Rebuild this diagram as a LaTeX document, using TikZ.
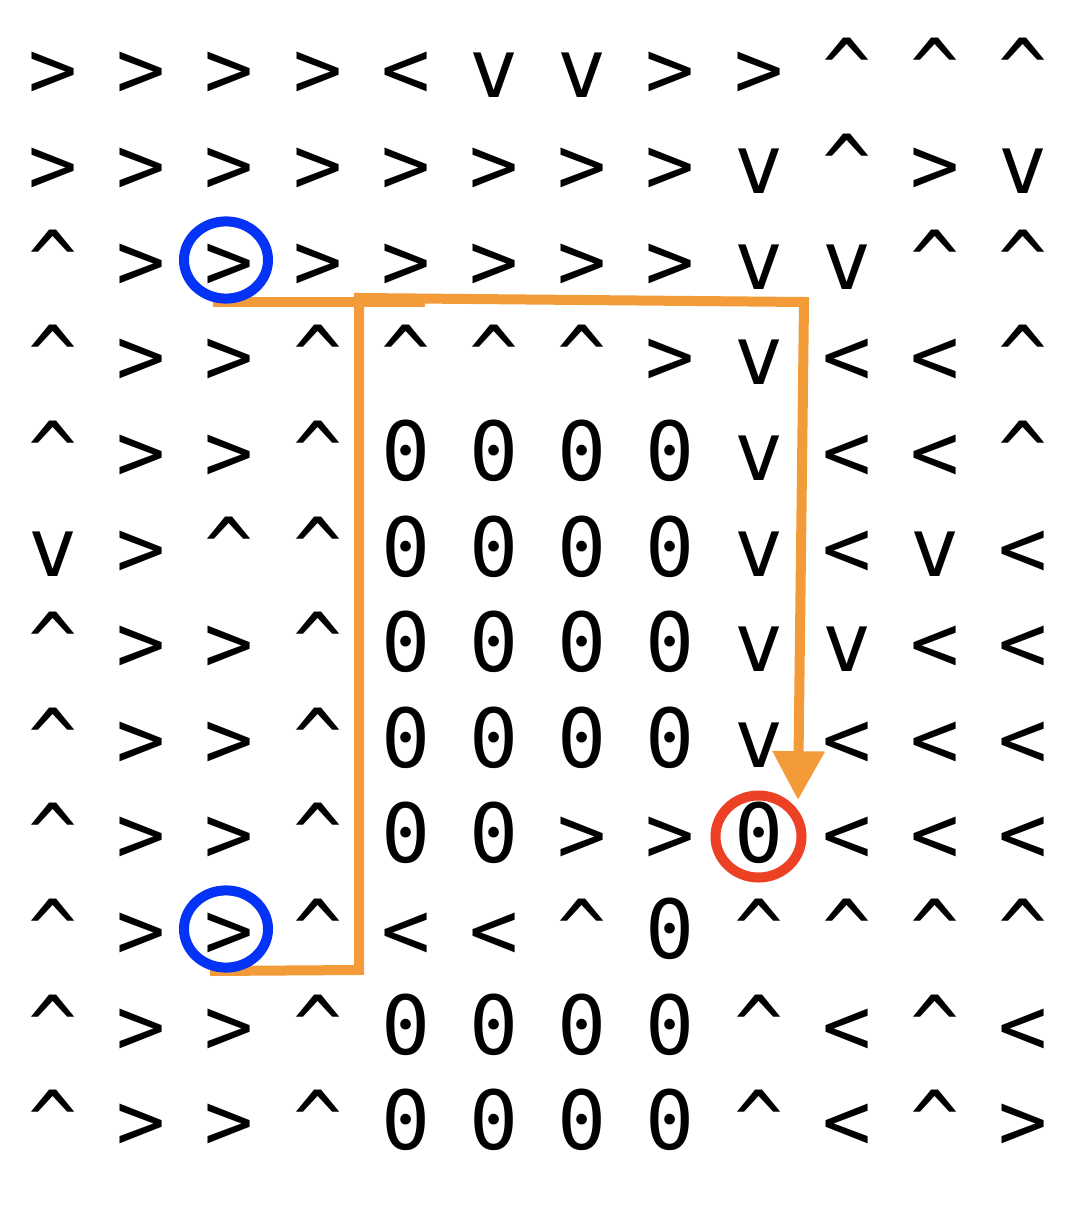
\documentclass[tikz,border=0pt]{standalone}
\usepackage{fontspec}
\usepackage{tikz}
\usetikzlibrary{arrows.meta, shapes.geometric}

\newfontfamily\gridfont{DejaVu Sans Mono}
\definecolor{routeorange}{HTML}{F39B38}
\definecolor{ringblue}{HTML}{0433F6}
\definecolor{ringred}{HTML}{EC4124}

% one letter per cell: r l d u o
\def\symr{>}\def\syml{<}\def\symd{v}\def\symu{\textasciicircum}\def\symo{0}

\begin{document}
\begin{tikzpicture}[
    x=0.025cm, y=-0.025cm,
    cell/.style={anchor=base, inner sep=0pt, font=\gridfont\fontsize{58}{60}\selectfont},
    ring/.style={draw=#1, ellipse, line width=0.25cm, inner sep=0pt},
    route/.style={draw=routeorange, line width=0.25cm},
    >={Triangle[length=1.22cm, width=1.25cm]},
]
    \useasboundingbox (0,0) rectangle (1080,1214);

    % grid of moves
    \foreach \rowlist [count=\j] in {
        {r,r,r,r,l,d,d,r,r,u,u,u},
        {r,r,r,r,r,r,r,r,d,u,r,d},
        {u,r,r,r,r,r,r,r,d,d,u,u},
        {u,r,r,u,u,u,u,r,d,l,l,u},
        {u,r,r,u,o,o,o,o,d,l,l,u},
        {d,r,u,u,o,o,o,o,d,l,d,l},
        {u,r,r,u,o,o,o,o,d,d,l,l},
        {u,r,r,u,o,o,o,o,d,l,l,l},
        {u,r,r,u,o,o,r,r,o,l,l,l},
        {u,r,r,u,l,l,u,o,u,u,u,u},
        {u,r,r,u,o,o,o,o,u,l,u,l},
        {u,r,r,u,o,o,o,o,u,l,u,r}}{
        \foreach \ch [count=\i] in \rowlist
            \node[cell] (c-\j-\i) at ({53+88.2*(\i-1)}, {98+95.6*(\j-1)}) {\csname sym\ch\endcsname};
    }

    % route
    \coordinate (r0) at (210,971);
    \coordinate (r1) at (359,970);
    \coordinate (r2) at (359,298);
    \coordinate (r3) at (804,302);
    \coordinate (r4) at (798,800);
    \coordinate (s0) at (213,302);
    \coordinate (s1) at (425,302);
    \draw[route] (s0) -- (s1);
    \draw[route, ->] (r0) -- (r1) -- (r2) -- (r3) -- (r4);

    % start and goal
    \node[ring=ringblue, minimum width=2.1cm, minimum height=1.93cm] (start1) at (226,260) {};
    \node[ring=ringblue, minimum width=2.1cm, minimum height=1.93cm] (start2) at (226,929) {};
    \node[ring=ringred, minimum width=2.15cm, minimum height=2.05cm] (goal) at (758.5,836.5) {};
\end{tikzpicture}
\end{document}
